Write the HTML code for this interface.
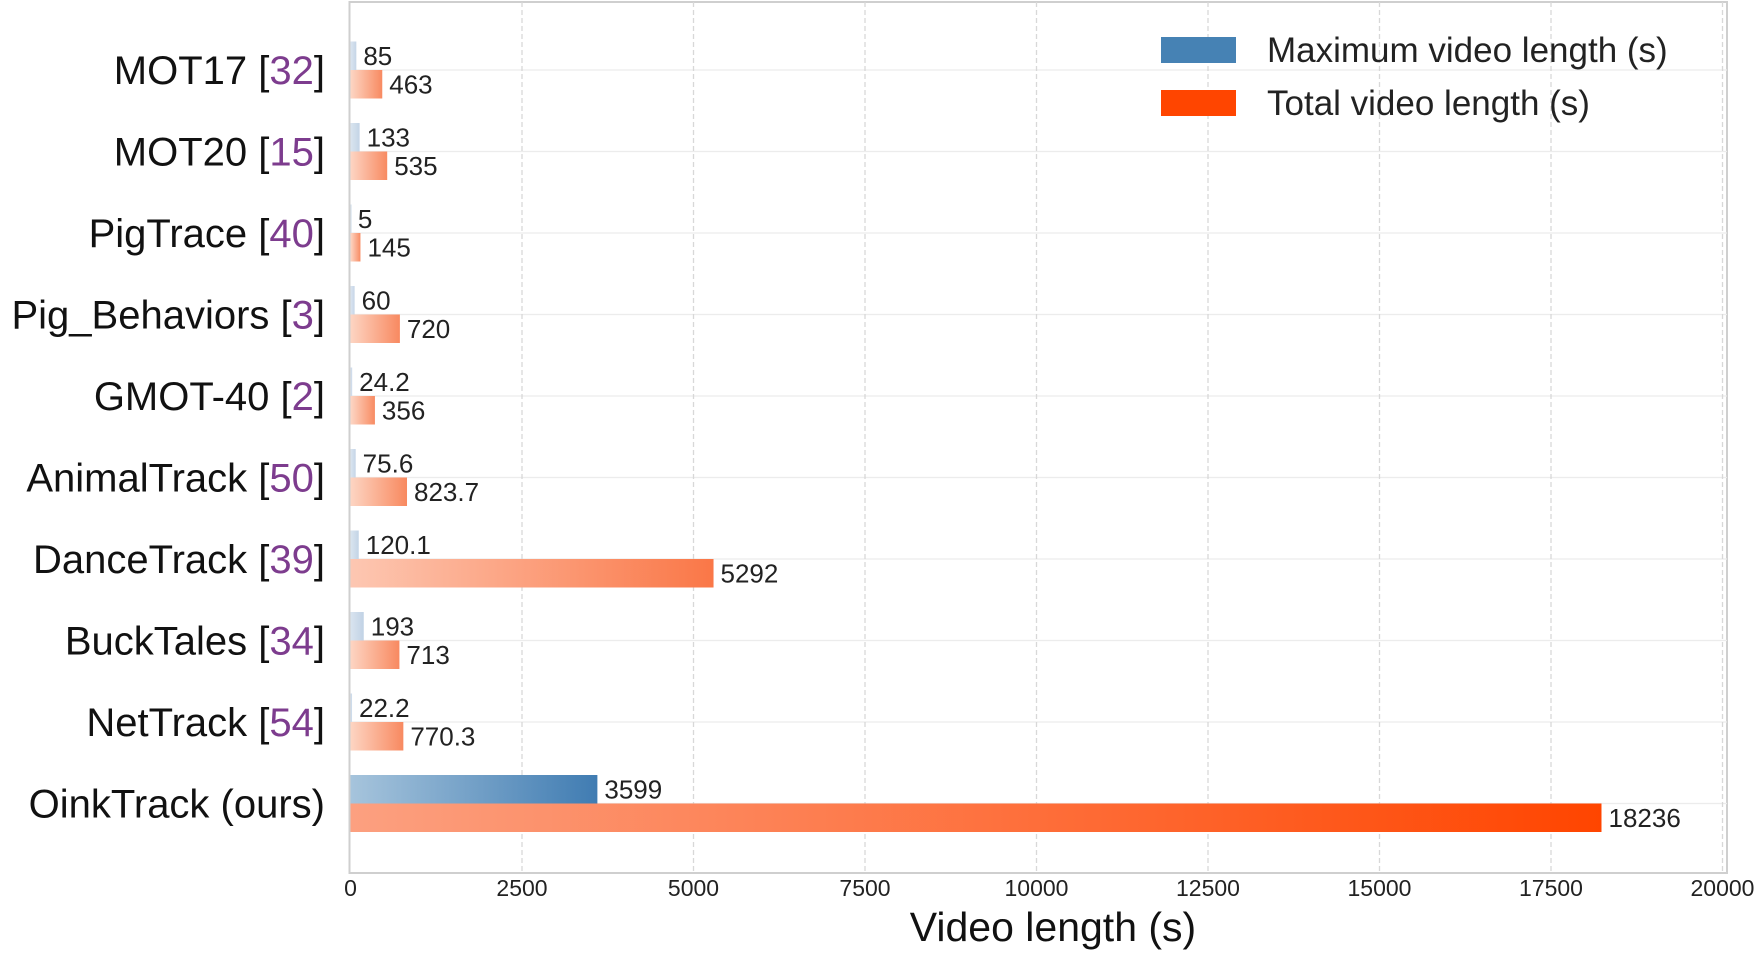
<!DOCTYPE html>
<html><head><meta charset="utf-8"><style>
html,body{margin:0;padding:0;background:#fff;}
svg{display:block;font-family:"Liberation Sans",sans-serif;}
</style></head><body>
<svg id="chart" width="1759" height="953" viewBox="0 0 1759 953" xmlns="http://www.w3.org/2000/svg">
<defs id="defs"></defs>
<g id="grid"></g>
<g id="bars"></g>
<g id="labels"></g>
<g>
<rect x="1161" y="37" width="75" height="26" fill="#4682b4"/>
<text x="1267" y="62" font-size="35" fill="#222">Maximum video length (s)</text>
<rect x="1161" y="90" width="75" height="26" fill="#ff4500"/>
<text x="1267" y="115" font-size="35" fill="#222">Total video length (s)</text>
</g>
<text x="1053" y="941" font-size="41" text-anchor="middle" fill="#111">Video length (s)</text>
</svg>
<script>
const names = ["MOT17","MOT20","PigTrace","Pig_Behaviors","GMOT-40","AnimalTrack","DanceTrack","BuckTales","NetTrack","OinkTrack (ours)"];
const refs = ["32","15","40","3","2","50","39","34","54",""];
const maxLen = [85,133,5,60,24.2,75.6,120.1,193,22.2,3599];
const totalLen = [463,535,145,720,356,823.7,5292,713,770.3,18236];
const maxLabels = ["85","133","5","60","24.2","75.6","120.1","193","22.2","3599"];
const totalLabels = ["463","535","145","720","356","823.7","5292","713","770.3","18236"];
const xTicks = [0,2500,5000,7500,10000,12500,15000,17500,20000];

const NS="http://www.w3.org/2000/svg";
const X0=350.5, XMAX=20000, PLOT_W=1372, TOP=2, BOTTOM=873, RIGHT=1727;
const ROW0=70, ROWSTEP=81.5, BH=28.5;
const x=v=>X0+v/XMAX*PLOT_W;
const y=i=>ROW0+i*ROWSTEP;
function mk(tag,attrs,parent){const e=document.createElementNS(NS,tag);for(const k in attrs)e.setAttribute(k,attrs[k]);parent.appendChild(e);return e;}
function lerp(a,b,t){return a.map((c,i)=>Math.round(c+(b[i]-c)*t));}
function rgb(c){return `rgb(${c[0]},${c[1]},${c[2]})`;}
const grid=document.getElementById('grid'),bars=document.getElementById('bars'),labels=document.getElementById('labels'),defs=document.getElementById('defs');

// frame
const fr=mk('rect',{x:X0-1,y:TOP,width:RIGHT-X0+1,height:BOTTOM-TOP,fill:'none',stroke:'#cfcfcf','stroke-width':2},grid);


names.forEach((n,i)=>{
  const l=mk('line',{x1:X0,x2:RIGHT,y1:y(i),y2:y(i),stroke:'#ececec','stroke-width':1.3},grid);
  
  
});
xTicks.forEach(t=>{
  if(t>0){
    const l=mk('line',{x1:x(t),x2:x(t),y1:TOP,y2:BOTTOM,stroke:'#d8d8d8','stroke-width':1.3,'stroke-dasharray':'5,3'},grid);
    
    
  }
  const tx=mk('text',{x:x(t),y:896,'font-size':23,'text-anchor':'middle',fill:'#222'},labels);
  tx.textContent=t;
  
  
});

const bMax=Math.max(...maxLen), tMax=Math.max(...totalLen);
names.forEach((n,i)=>{
  // blue
  const tb=maxLen[i]/bMax;
  const gb=mk('linearGradient',{id:'gb'+i,x1:0,x2:1,y1:0,y2:0},defs);
  mk('stop',{offset:0,'stop-color':rgb(lerp([220,230,240],[166,196,220],tb))},gb);
  mk('stop',{offset:1,'stop-color':rgb(lerp([200,215,232],[64,124,178],tb))},gb);
  const rb=mk('rect',{x:x(0),y:y(i)-BH,width:Math.max(x(maxLen[i])-x(0),1),height:BH,fill:`url(#gb${i})`},bars);
  
  
  const lb=mk('text',{x:x(maxLen[i])+7,y:y(i)-BH/2+9,'font-size':26,fill:'#222'},labels);
  lb.textContent=maxLabels[i];
  
  
  // orange
  const tt=totalLen[i]/tMax;
  const go=mk('linearGradient',{id:'go'+i,x1:0,x2:1,y1:0,y2:0},defs);
  mk('stop',{offset:0,'stop-color':rgb(lerp([253,215,198],[252,160,128],tt))},go);
  mk('stop',{offset:1,'stop-color':rgb(lerp([248,140,100],[255,69,0],tt))},go);
  const ro=mk('rect',{x:x(0),y:y(i),width:Math.max(x(totalLen[i])-x(0),1),height:BH,fill:`url(#go${i})`},bars);
  
  
  const lo=mk('text',{x:x(totalLen[i])+7,y:y(i)+BH/2+9,'font-size':26,fill:'#222'},labels);
  lo.textContent=totalLabels[i];
  
  
  // y label
  const yl=mk('text',{x:325,y:y(i)+14,'font-size':40,'text-anchor':'end',fill:'#111'},labels);
  
  
  if(refs[i]){
    const a=mk('tspan',{},yl);a.textContent=n+' [';
    const b=mk('tspan',{fill:'#7d3c8e'},yl);b.textContent=refs[i];
    const c=mk('tspan',{},yl);c.textContent=']';
  } else yl.textContent=n;
});
</script>
</body></html>
